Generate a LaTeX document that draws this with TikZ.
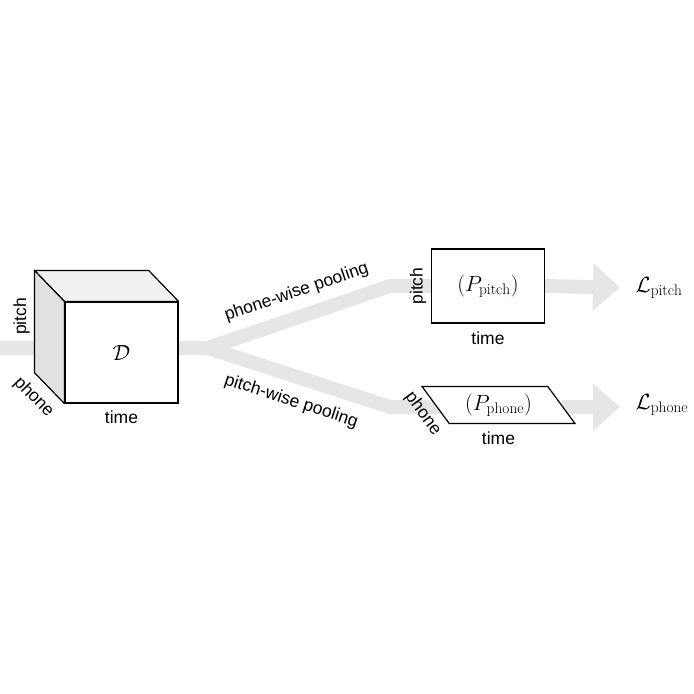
\RequirePackage{fix-cm}
\documentclass[tikz,border=0pt]{standalone}
\usepackage{fontspec}
\setsansfont{Liberation Sans}
\usetikzlibrary{positioning,shapes.geometric,arrows.meta,calc,backgrounds}
\definecolor{bandgray}{HTML}{E6E6E6}
\definecolor{topgray}{HTML}{F1F1F1}
\definecolor{sidegray}{HTML}{E1E1E1}
\begin{document}
\begin{tikzpicture}[x=1pt,y=-1pt,line width=1.2pt,
    band/.style={draw=bandgray, line width=14pt},
    bandarrow/.style={band, -{Triangle[length=27pt,width=46pt]}, shorten >=15pt},
    lbl/.style={font=\sffamily\fontsize{17.5}{21}\selectfont, inner sep=4pt},
    mathlbl/.style={font=\fontsize{22}{26}\selectfont, inner sep=0pt}]
  \useasboundingbox (0,0) rectangle (694,694);
  % the data cube
  \node[draw,fill=white,minimum width=113pt,minimum height=101pt,mathlbl] at (121.5,352.5) (cube) {$\mathcal{D}$};
  \coordinate (btl) at ($(cube.north west)+(-30,-31)$);
  \coordinate (btr) at ($(cube.north east)+(-30,-31)$);
  \coordinate (bbl) at ($(cube.south west)+(-30,-31)$);
  \draw[fill=topgray,line join=round] (cube.north west) -- (btl) -- (btr) -- (cube.north east) -- cycle;
  \draw[fill=sidegray,line join=round] (cube.north west) -- (btl) -- (bbl) -- (cube.south west) -- cycle;
  \node[lbl,rotate=90,anchor=south] at ($(btl)!0.45!(bbl)$) (cubepitch) {pitch};
  \path (bbl) -- (cube.south west) node[lbl,pos=0.4,sloped,below=5pt] (cubephone) {phone};
  \node[lbl,below=3pt of cube] (cubetime) {time};
  % pooled outputs
  \node[draw,fill=white,minimum width=113pt,minimum height=74pt,mathlbl] at (488,286) (prect) {$(P_{\mathrm{pitch}})$};
  \node[lbl,rotate=90,anchor=south] at (prect.west) (rectpitch) {pitch};
  \node[lbl,below=4pt of prect] (recttime) {time};
  \node[trapezium,trapezium left angle=129,trapezium right angle=51,trapezium stretches=true,
    draw,fill=white,minimum width=153pt,minimum height=37pt,mathlbl] at (498.5,405) (ppar) {$(P_{\mathrm{phone}})$};
  \path (ppar.top left corner) -- (ppar.bottom left corner) node[lbl,pos=0.5,sloped,below=2pt] (parphone) {phone};
  \node[lbl,below=3pt of ppar] (partime) {time};
  % losses
  \node[mathlbl,anchor=west] at (635,288) (lpitch) {$\mathcal{L}_{\mathrm{pitch}}$};
  \node[mathlbl,anchor=west] at (lpitch.west |- ppar) (lphone) {$\mathcal{L}_{\mathrm{phone}}$};
  % grey flow bands
  \coordinate (start) at (0,348);
  \coordinate (fork) at (208,348);
  \coordinate (upbend) at (390,286);
  \coordinate (downbend) at (390,407);
  \begin{scope}[on background layer]
    \draw[band] (start) -- (cube.center |- start);
    \draw[band] (cube.center |- fork) -- (fork) -- (upbend)
      node[lbl,pos=0.53,sloped,above=5pt] (phonewise) {phone-wise pooling} -- (prect.center |- upbend);
    \draw[band] (fork) -- (downbend)
      node[lbl,pos=0.5,sloped,below=6pt] (pitchwise) {pitch-wise pooling} -- (ppar.center |- downbend);
    \draw[bandarrow] (prect.east) -- (lpitch.west);
    \draw[bandarrow] (ppar.east |- downbend) -- (lphone.west |- downbend);
  \end{scope}
\end{tikzpicture}
\end{document}
